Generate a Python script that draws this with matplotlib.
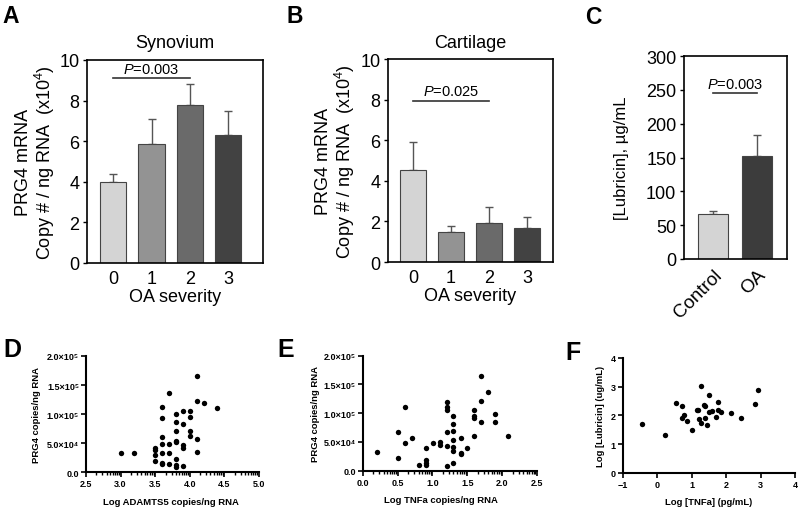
import matplotlib
matplotlib.use('Agg')
import matplotlib.pyplot as plt
from matplotlib.ticker import FixedLocator
import numpy as np

plt.rcParams['font.family'] = ['Liberation Sans', 'DejaVu Sans']
plt.rcParams['mathtext.fontset'] = 'custom'
plt.rcParams['mathtext.rm'] = 'Liberation Sans'
plt.rcParams['mathtext.it'] = 'Liberation Sans:italic'
plt.rcParams['mathtext.bf'] = 'Liberation Sans:bold'

# --- A / B: PRG4 mRNA by OA severity (x10^4 copies / ng RNA)
severity = ['0', '1', '2', '3']
syn_mean = [4.0, 5.85, 7.8, 6.3]
syn_err = [0.4, 1.25, 1.0, 1.2]
cart_mean = [4.55, 1.5, 1.9, 1.7]
cart_err = [1.35, 0.28, 0.8, 0.5]

# --- C: synovial fluid lubricin (ug/mL)
lub_groups = ['Control', 'OA']
lub_mean = [67, 152]
lub_err = [4, 32]

# --- D: PRG4 vs log ADAMTS5
adamts5_log = [3.0, 3.2, 3.5, 3.5, 3.5, 3.5, 3.6, 3.6, 3.6, 3.6, 3.6, 3.6, 3.6,
               3.7, 3.7, 3.7, 3.7, 3.8, 3.8, 3.8, 3.8, 3.8, 3.8, 3.8, 3.8,
               3.9, 3.9, 3.9, 3.9, 3.9, 4.0, 4.0, 4.0, 4.0, 4.1, 4.1, 4.1, 4.1,
               4.2, 4.4]
adamts5_prg4 = [33000, 32000, 42000, 38000, 30000, 19000, 112000, 93000, 61000, 48000, 32000, 14000, 15000,
                136000, 49000, 33000, 14000, 100000, 86000, 70000, 54000, 52000, 22000, 12000, 9000,
                105000, 82000, 46000, 42000, 10000, 106000, 95000, 70000, 62000, 165000, 122000, 57000, 35000,
                119000, 110000]

# --- E: PRG4 vs log TNFa mRNA
tnfa_log = [0.21, 0.51, 0.51, 0.61, 0.61, 0.71, 0.81, 0.91, 0.91, 0.91, 0.91, 1.01,
            1.11, 1.11, 1.21, 1.21, 1.21, 1.21, 1.21, 1.21, 1.30, 1.30, 1.30, 1.30, 1.30,
            1.30, 1.30, 1.41, 1.41, 1.41, 1.50, 1.60, 1.60, 1.60, 1.60, 1.70, 1.70, 1.70,
            1.80, 1.90, 1.90, 2.09]
tnfa_prg4 = [32000, 68000, 22000, 111000, 49000, 56000, 10000, 39000, 19000, 14000, 10000, 48000,
             50000, 45000, 119000, 110000, 106000, 68000, 43000, 8000, 95000, 82000, 69000, 54000, 42000,
             34000, 13000, 56000, 31000, 29000, 39000, 106000, 95000, 92000, 60000, 164000, 122000, 85000,
             136000, 99000, 85000, 60000]

# --- F: log lubricin vs log TNFa protein
tnf_protein_log = [-0.43, 0.22, 0.54, 0.72, 0.72, 0.78, 0.86, 1.01, 1.14, 1.19, 1.20, 1.27,
                   1.28, 1.34, 1.37, 1.37, 1.45, 1.50, 1.51, 1.59, 1.69, 1.75, 1.76, 1.84,
                   2.14, 2.42, 2.83, 2.93]
lubricin_log = [1.72, 1.32, 2.45, 2.33, 1.90, 2.02, 1.81, 1.50, 2.20, 2.18, 1.88, 3.01,
                1.75, 2.36, 2.34, 1.91, 1.67, 2.71, 2.11, 2.15, 1.96, 2.19, 2.48, 2.11,
                2.09, 1.91, 2.41, 2.87]

ppt_y = ['0.0', '5.0×10⁴', '1.0×10⁵', '1.5×10⁵', '2.0×10⁵']

bar_grays = ['#d4d4d4', '#939393', '#6a6a6a', '#424242']
lub_grays = ['#d4d4d4', '#3c3c3c']

fig = plt.figure(figsize=(8, 5.1), dpi=100)


def bar_panel(ax, labels, means, errs, colors, width, xlim):
    x = np.arange(len(means))
    ax.bar(x, means, width=width, color=colors, edgecolor='#444444', linewidth=0.8, zorder=2)
    ax.errorbar(x, means, yerr=[np.zeros(len(errs)), errs], fmt='none', ecolor='#555555',
                elinewidth=1.0, capsize=3, capthick=1.0, zorder=1)
    ax.set_xlim(*xlim)
    ax.set_xticks(x)
    ax.set_xticklabels(labels)
    for s in ax.spines.values():
        s.set_linewidth(1.2)
    ax.tick_params(axis='y', direction='out', length=3, width=1, pad=2.5, labelsize=13)
    ax.tick_params(axis='x', length=0, pad=5, labelsize=13)


# A
axA = fig.add_axes([0.10875, 0.4824, 0.22, 0.398])
bar_panel(axA, severity, syn_mean, syn_err, bar_grays, 0.68, (-0.68, 3.9))
axA.set_ylim(0, 10)
axA.set_yticks([0, 2, 4, 6, 8, 10])
axA.set_title('Synovium', fontsize=13, pad=9)
axA.plot([0, 2], [9.1, 9.1], color='#333333', lw=1.2)
axA.text(1, 9.22, '$P$=0.003', ha='center', va='bottom', fontsize=10.5)
axA.text(-0.29, 0.5, 'PRG4 mRNA\nCopy # / ng RNA  (x10$^4$)', transform=axA.transAxes,
         rotation=90, ha='center', va='center', fontsize=13, linespacing=1.05)
axA.set_xlabel('OA severity', fontsize=13, labelpad=1)

# B
axB = fig.add_axes([0.485, 0.4843, 0.20625, 0.398])
bar_panel(axB, severity, cart_mean, cart_err, bar_grays, 0.7, (-0.66, 3.68))
axB.set_ylim(0, 10)
axB.set_yticks([0, 2, 4, 6, 8, 10])
axB.set_title('Cartilage', fontsize=13, pad=9)
axB.plot([0, 2], [7.95, 7.95], color='#333333', lw=1.2)
axB.text(1, 8.07, '$P$=0.025', ha='center', va='bottom', fontsize=10.5)
axB.text(-0.315, 0.5, 'PRG4 mRNA\nCopy # / ng RNA  (x10$^4$)', transform=axB.transAxes,
         rotation=90, ha='center', va='center', fontsize=13, linespacing=1.05)
axB.set_xlabel('OA severity', fontsize=13, labelpad=1)

# C
axC = fig.add_axes([0.855, 0.4902, 0.12875, 0.398])
bar_panel(axC, lub_groups, lub_mean, lub_err, lub_grays, 0.68, (-0.66, 1.68))
axC.set_ylim(0, 300)
axC.set_yticks([0, 50, 100, 150, 200, 250, 300])
axC.plot([0, 1], [245, 245], color='#333333', lw=1.2)
axC.text(0.5, 249, '$P$=0.003', ha='center', va='bottom', fontsize=10.5)
axC.text(-0.61, 0.5, '[Lubricin], µg/mL', transform=axC.transAxes,
         rotation=90, ha='center', va='center', fontsize=12)
for lab in axC.get_xticklabels():
    lab.set_rotation(45)
    lab.set_ha('right')
    lab.set_va('top')
    lab.set_rotation_mode('anchor')
    lab.set_fontsize(13.5)


def log_minor(lo, hi, step):
    pos = []
    m = lo
    while m < hi - 1e-9:
        pos += [m + step * np.log10(k) for k in range(2, 10)]
        m += step
    return pos


def scatter_panel(ax, xs, ys, xlim, ylim, xticks, yticks, ylabels, xlabel, ylabel,
                  ylab_x, xlab_x, minor):
    ax.scatter(xs, ys, s=15, color='black', linewidths=0, zorder=3, clip_on=False)
    ax.set_xlim(*xlim)
    ax.set_ylim(*ylim)
    ax.spines['top'].set_visible(False)
    ax.spines['right'].set_visible(False)
    ax.spines['left'].set_linewidth(1.5)
    ax.spines['bottom'].set_linewidth(1.5)
    ax.set_xticks(xticks)
    ax.set_yticks(yticks)
    if ylabels is not None:
        ax.set_yticklabels(ylabels)
    if minor:
        ax.xaxis.set_minor_locator(FixedLocator(log_minor(xlim[0], xlim[1], xticks[1] - xticks[0])))
        ax.tick_params(axis='x', which='minor', direction='out', length=2.5, width=1)
    ax.tick_params(which='major', direction='out', length=3.5, width=1.2, pad=1.5, labelsize=6.5)
    for lab in ax.get_xticklabels() + ax.get_yticklabels():
        lab.set_fontweight('bold')
    ax.text(ylab_x, 0.5, ylabel, transform=ax.transAxes, rotation=90, ha='center', va='center',
            fontsize=6.8, fontweight='bold')
    ax.text(xlab_x, -0.25, xlabel, transform=ax.transAxes, ha='center', va='center',
            fontsize=6.8, fontweight='bold')


axD = fig.add_axes([0.1075, 0.0725, 0.216, 0.2275])
scatter_panel(axD, adamts5_log, adamts5_prg4, (2.5, 5.0), (0, 200000),
              [2.5, 3.0, 3.5, 4.0, 4.5, 5.0], [0, 50000, 100000, 150000, 200000], ppt_y,
              'Log ADAMTS5 copies/ng RNA', 'PRG4 copies/ng RNA', -0.285, 0.49, True)

axE = fig.add_axes([0.4534, 0.0751, 0.2179, 0.2255])
scatter_panel(axE, tnfa_log, tnfa_prg4, (0, 2.5), (0, 200000),
              [0.0, 0.5, 1.0, 1.5, 2.0, 2.5], [0, 50000, 100000, 150000, 200000], ppt_y,
              'Log TNFa copies/ng RNA', 'PRG4 copies/ng RNA', -0.27, 0.45, True)

axF = fig.add_axes([0.7784, 0.0706, 0.2158, 0.2255])
scatter_panel(axF, tnf_protein_log, lubricin_log, (-1, 4), (0, 4),
              [-1, 0, 1, 2, 3, 4], [0, 1, 2, 3, 4], None,
              'Log [TNFa] (pg/mL)', 'Log [Lubricin] (ug/mL)', -0.13, 0.5, False)

# panel letters
for letter, px, py, size in [('A', 2, 5, 16.5), ('B', 287, 5, 16.5), ('C', 585, 6, 16.5),
                             ('D', 3, 338, 18), ('E', 277, 338, 18), ('F', 565, 341, 18)]:
    fig.text(px / 800, 1 - py / 510, letter, ha='left', va='top', fontsize=size, fontweight='bold')

fig.savefig('out.png', dpi=100)
